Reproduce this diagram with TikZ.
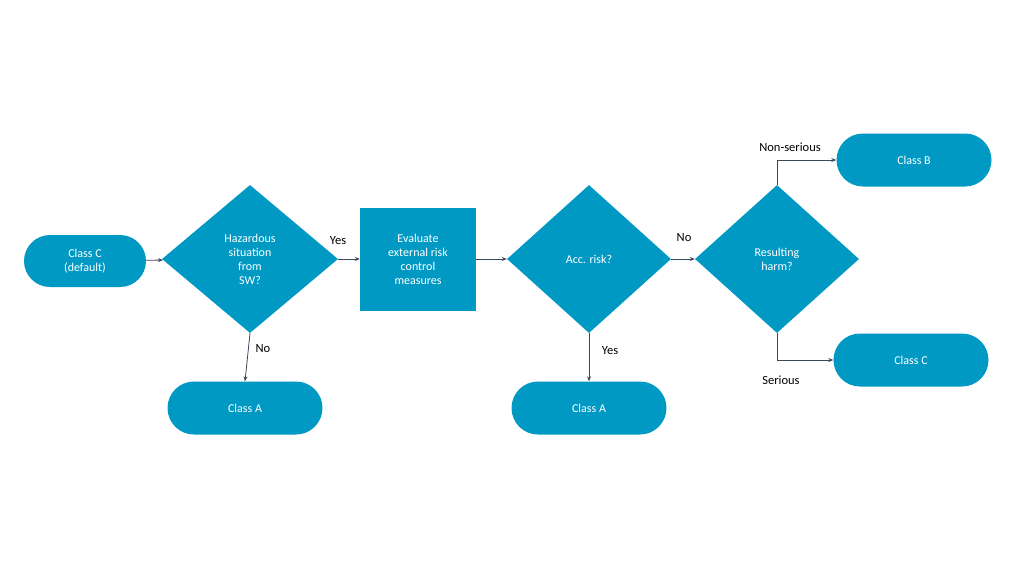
\documentclass[tikz,border=0pt]{standalone}
\usepackage{fontspec}
\setmainfont{Carlito}
\usetikzlibrary{shapes.geometric,shapes.misc,arrows.meta}
\definecolor{boxColor}{RGB}{0,153,196}
\definecolor{lineColor}{RGB}{59,72,88}
\tikzset{
  term/.style={rounded rectangle,fill=boxColor,text=white,minimum width=155,minimum height=53,inner sep=0pt,font=\fontsize{12}{14}\selectfont,align=center},
  decide/.style={diamond,fill=boxColor,text=white,inner sep=0pt,font=\fontsize{12}{14}\selectfont,align=center},
  flow/.style={draw=lineColor,line width=0.8pt,-{Stealth[length=5pt,width=4pt]}},
  lbl/.style={text=black,font=\fontsize{12.5}{14}\selectfont}
}
\begin{document}
\begin{tikzpicture}[x=1pt,y=-1pt]
\path[use as bounding box,fill=white] (0,0) rectangle (1024,576);
\node[term,minimum width=122,minimum height=52] (start) at (85,261) {Class C\\(default)};
\node[decide,minimum width=176,minimum height=148,aspect=1.19] (haz) at (250,259) {Hazardous\\situation\\from\\SW?};
\node[rectangle,fill=boxColor,text=white,minimum width=116,minimum height=103,inner sep=0pt,font=\fontsize{12}{14}\selectfont,align=center] (eval) at (418,259) {Evaluate\\external risk\\control\\measures};
\node[decide,minimum width=164,minimum height=148,aspect=1.1] (acc) at (589,259) {Acc. risk?};
\node[decide,minimum width=164,minimum height=148,aspect=1.1] (harm) at (777,259) {Resulting\\harm?};
\node[term] (classB) at (914,160) {Class B};
\node[term] (classC) at (911,360) {Class C};
\node[term] (classA1) at (245,408) {Class A};
\node[term] (classA2) at (589,408) {Class A};
% connectors
\draw[flow] (start) -- (haz);
\draw[flow] (haz.east) -- (eval.west);
\draw[flow] (haz.south) -- (classA1.north);
\draw[flow] (eval.east) -- (acc.west);
\draw[flow] (acc.east) -- (harm.west);
\draw[flow] (acc.south) -- (classA2.north);
\draw[flow] (harm.north) |- (classB.west);
\draw[flow] (harm.south) |- (classC.west);
% labels
\node[lbl] (l1) at (338,241) {Yes};
\node[lbl] (l2) at (263,349) {No};
\node[lbl] (l3) at (684,238) {No};
\node[lbl] (l4) at (610,351) {Yes};
\node[lbl] (l5) at (790,147) {Non-serious};
\node[lbl] (l6) at (781,380) {Serious};
\end{tikzpicture}
\end{document}
